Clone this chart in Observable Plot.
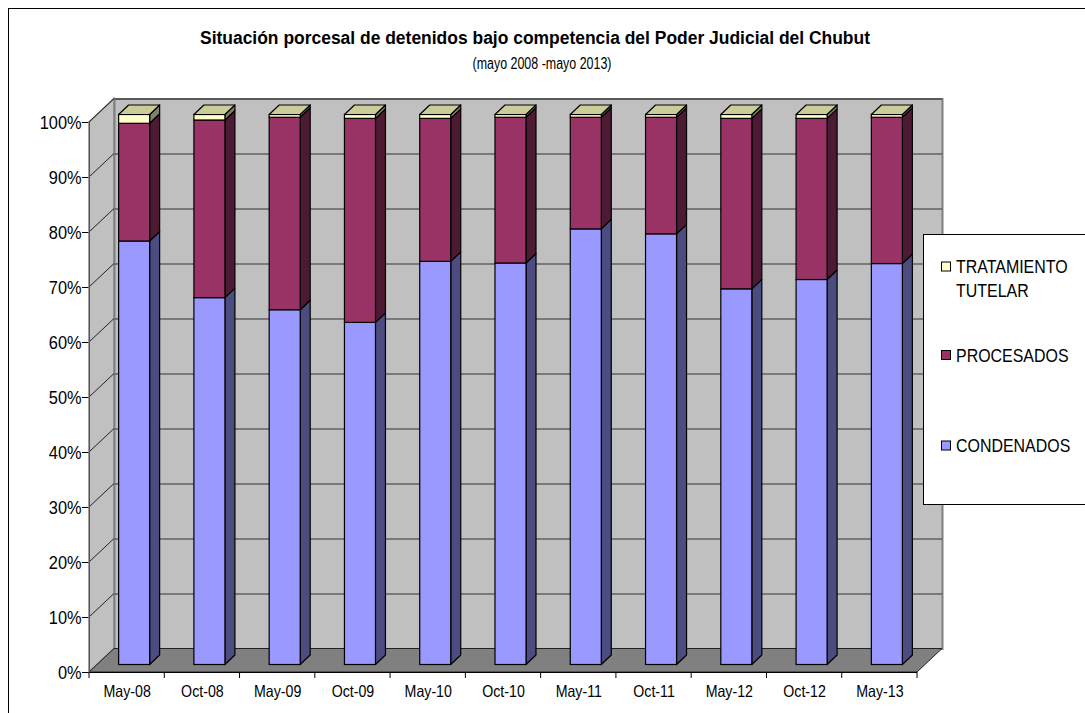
<!DOCTYPE html>
<html><head><meta charset="utf-8">
<script src="https://cdn.jsdelivr.net/npm/d3@7"></script>
<script src="https://cdn.jsdelivr.net/npm/@observablehq/plot@0.6"></script>
<style>
body{margin:0;background:#fff;font-family:"Liberation Sans",Arial,sans-serif;}
#wrap{position:relative;width:1085px;height:713px;overflow:hidden;background:#fff;}
#border{position:absolute;left:8px;top:8px;width:2000px;height:2000px;border:1px solid #000;z-index:5;pointer-events:none;}
#legend{position:absolute;left:923px;top:234px;z-index:4;}
#titlebox{display:block;}
</style></head>
<body>
<div id="wrap">
  <div id="border"></div>
  <svg id="titlebox" width="1085" height="88"></svg>
  <div id="chart"></div>
  <svg id="legend" width="162" height="272"></svg>
</div>
<script>
const title = "Situación porcesal de detenidos bajo competencia del Poder Judicial del Chubut";
const subtitle = "(mayo 2008 -mayo 2013)";
const categories = ["May-08","Oct-08","May-09","Oct-09","May-10","Oct-10","May-11","Oct-11","May-12","Oct-12","May-13"];
const condenados = [77.0,66.7,64.5,62.2,73.3,73.0,79.2,78.3,68.3,70.0,72.9];
const procesados = [21.4,32.3,35.0,37.1,26.0,26.5,20.3,21.2,31.0,29.3,26.6];
const tutelar    = [1.6,1.0,0.5,0.7,0.7,0.5,0.5,0.5,0.7,0.7,0.5];
const seriesNames = ["CONDENADOS","PROCESADOS","TRATAMIENTO TUTELAR"];
const legendLabels = [["TRATAMIENTO","TUTELAR"],["PROCESADOS"],["CONDENADOS"]];
const yTicks = [0,10,20,30,40,50,60,70,80,90,100];

const frontColors = ["#9999ff","#993366","#ffffcc"];
const sideColors  = ["#4c4c80","#4d1a33","#80806a"];
const topColor = "#cccc99";
const K = 0.86; // horizontal text compression

// geometry (pixels)
const DX = 25, DY = -23.5;   // wall depth
const BX = 7.5, BY = -7.5;   // bar front offset
const SX = 10, SY = -9.5;    // bar thickness
const BW = 0.412;            // bar width fraction of band

const seriesVals = [condenados, procesados, tutelar];
const segments = [];
categories.forEach((c, i) => {
  let acc = 0;
  seriesVals.forEach((vals, k) => {
    const v = vals[i];
    segments.push({i, cat: c, k, series: seriesNames[k], y1: acc, y2: acc + v,
      x1: i + (1 - BW) / 2, x2: i + (1 + BW) / 2});
    acc += v;
  });
});
const bars = categories.map((c, i) => ({i, cat: c, x1: i + (1 - BW) / 2, x2: i + (1 + BW) / 2,
  top: d3.sum(seriesVals, s => s[i])}));

function walls(index, scales) {
  const x = scales.x, y = scales.y;
  const g = d3.create("svg:g");
  const x0 = x(0), xN = x(categories.length), y0 = y(0), y1 = y(100);
  g.append("path").attr("d", `M${x0},${y0}L${x0},${y1}L${x0+DX},${y1+DY}L${x0+DX},${y0+DY}Z`)
    .attr("fill", "#c0c0c0").attr("stroke", "#808080").attr("stroke-width", 1.5);
  g.append("path").attr("d", `M${x0},${y0}L${xN},${y0}L${xN+DX},${y0+DY}L${x0+DX},${y0+DY}Z`)
    .attr("fill", "#808080").attr("stroke", "#222").attr("stroke-width", 1);
  for (const t of yTicks.slice(1)) {
    g.append("line").attr("x1", x0).attr("y1", y(t)).attr("x2", x0 + DX).attr("y2", y(t) + DY)
      .attr("stroke", "#222").attr("stroke-width", 1);
  }
  return g.node();
}
function sides(index, scales) {
  const x = scales.x, y = scales.y;
  const g = d3.create("svg:g");
  for (const s of segments) {
    if (s.y2 - s.y1 <= 0) continue;
    const xr = x(s.x2) + BX, yt = y(s.y2) + BY, yb = y(s.y1) + BY;
    g.append("path").attr("d", `M${xr},${yb}L${xr},${yt}L${xr+SX},${yt+SY}L${xr+SX},${yb+SY}Z`)
      .attr("fill", sideColors[s.k]).attr("stroke", "#000").attr("stroke-width", 1.2).attr("stroke-linejoin", "round");
  }
  return g.node();
}
function tops(index, scales) {
  const x = scales.x, y = scales.y;
  const g = d3.create("svg:g");
  for (const b of bars) {
    const xl = x(b.x1) + BX, xr = x(b.x2) + BX, yt = y(b.top) + BY;
    g.append("path").attr("d", `M${xl},${yt}L${xr},${yt}L${xr+SX},${yt+SY}L${xl+SX},${yt+SY}Z`)
      .attr("fill", topColor).attr("stroke", "#000").attr("stroke-width", 1.2).attr("stroke-linejoin", "round");
  }
  return g.node();
}
function xTicks(index, scales) {
  const x = scales.x, y = scales.y;
  const g = d3.create("svg:g");
  for (let i = 0; i <= categories.length; i++) {
    g.append("line").attr("x1", x(i)).attr("x2", x(i)).attr("y1", y(0)).attr("y2", y(0) + 6)
      .attr("stroke", "#000");
  }
  return g.node();
}

const chart = Plot.plot({
  width: 1085, height: 625,
  marginLeft: 89, marginRight: 168, marginTop: 34, marginBottom: 41,
  style: {fontFamily: "Liberation Sans, Arial, sans-serif", fontSize: "19px", background: "transparent", overflow: "visible", color: "#000"},
  x: {domain: [0, categories.length], axis: null},
  y: {domain: [0, 100], ticks: yTicks, tickFormat: d => d + "%", tickSize: 7, tickPadding: 1, label: null},
  color: {domain: seriesNames, range: frontColors},
  marks: [
    Plot.frame({fill: "#c0c0c0", stroke: "#808080", strokeWidth: 2, dx: DX, dy: DY}),
    Plot.ruleY(yTicks.slice(1), {dx: DX, dy: DY, stroke: "#333", strokeWidth: 1}),
    walls,
    sides,
    Plot.rect(segments, {x1: "x1", x2: "x2", y1: "y1", y2: "y2", fill: "series", stroke: "#000", strokeWidth: 1.2, dx: BX, dy: BY}),
    tops,
    Plot.ruleX([0], {y1: 0, y2: 100, stroke: "#555", strokeWidth: 1}),
    Plot.ruleY([0], {x1: 0, x2: categories.length, stroke: "#000", strokeWidth: 1}),
    xTicks,
    Plot.text(categories, {x: (d, i) => i + 0.5, y: () => 0, dy: 19, text: d => d, fontSize: 16.5, fill: "#000"})
  ]
});
document.getElementById("chart").appendChild(chart);

function compress(root, k) {
  root.querySelectorAll("text").forEach(t => {
    if (t.querySelector("tspan")) return;
    const len = t.getComputedTextLength();
    if (len > 0) { t.setAttribute("textLength", len * k); t.setAttribute("lengthAdjust", "spacingAndGlyphs"); }
  });
}
compress(chart, K);

// title
const tb = d3.select("#titlebox");
tb.append("text").attr("x", 535).attr("y", 44).attr("text-anchor", "middle")
  .attr("font-family", "Liberation Sans, Arial, sans-serif").attr("font-weight", "bold").attr("font-size", 18)
  .attr("textLength", 670).attr("lengthAdjust", "spacingAndGlyphs").text(title);
const sub = tb.append("text").attr("x", 542).attr("y", 69).attr("text-anchor", "middle")
  .attr("font-family", "Liberation Sans, Arial, sans-serif").attr("font-size", 16).text(subtitle);
{
  const s = sub.node();
  const len = s.getComputedTextLength();
  s.setAttribute("textLength", Math.min(len, 139)); s.setAttribute("lengthAdjust", "spacingAndGlyphs");
}

// legend
const lg = d3.select("#legend");
lg.append("rect").attr("x", 0.5).attr("y", 0.5).attr("width", 300).attr("height", 270)
  .attr("fill", "#fff").attr("stroke", "#000");
const legendRows = [
  {k: 2, sy: 28, base: [38.8, 62.8]},
  {k: 1, sy: 116.5, base: [127.8]},
  {k: 0, sy: 207, base: [218.3]}
];
legendRows.forEach((r, j) => {
  lg.append("rect").attr("x", 18.5).attr("y", r.sy).attr("width", 9).attr("height", 9)
    .attr("fill", frontColors[r.k]).attr("stroke", "#000");
  legendLabels[j].forEach((line, li) => {
    lg.append("g").attr("transform", `translate(33,${r.base[li]}) scale(0.84,1)`)
      .append("text").attr("x", 0).attr("y", 0)
      .attr("font-family", "Liberation Sans, Arial, sans-serif").attr("font-size", 19).text(line);
  });
});
</script>
</body></html>
